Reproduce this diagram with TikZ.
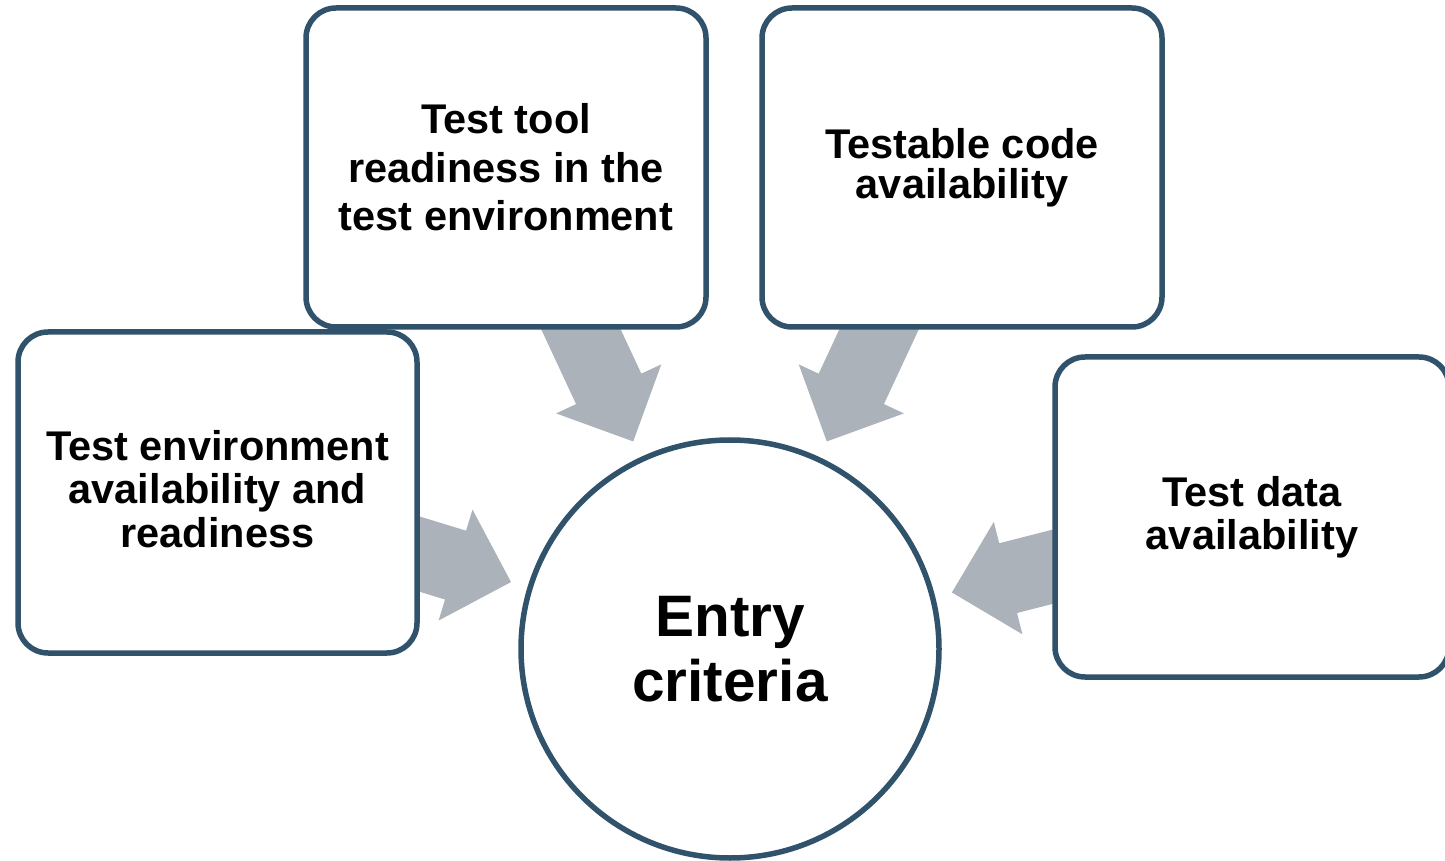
\documentclass[tikz,border=0pt]{standalone}
\usepackage{fontspec}
\setmainfont{Liberation Sans}
\usetikzlibrary{calc,backgrounds}
\definecolor{edgeblue}{HTML}{30526A}
\definecolor{arrowgray}{HTML}{ABB2BA}
\tikzset{
  infobox/.style={draw=edgeblue, line width=5.5pt, fill=white, rounded corners=30pt,
    align=center, inner sep=0pt, font=\bfseries\fontsize{41.5}{44}\selectfont},
  hub/.style={circle, draw=edgeblue, line width=5.5pt, fill=white, minimum size=418pt,
    inner sep=0pt, align=center, font=\bfseries\fontsize{58.5}{65}\selectfont},
  blockarrow/.pic={\fill[arrowgray] (0,0) -- (-58,58) -- (-58,36) -- (-170,36)
    -- (-170,-36) -- (-58,-36) -- (-58,-58) -- cycle;}
}
\begin{document}
\begin{tikzpicture}[x=1pt,y=1pt]
\useasboundingbox (0,0) rectangle (1445,860);
\node[hub] (E) at (730,211) {Entry\\criteria};
\node[infobox, minimum width=399pt, minimum height=321pt,
  font=\bfseries\fontsize{41.5}{43.5}\selectfont] (A) at (217.5,367.5)
  {Test environment\\availability and\\readiness\rule[-8pt]{0pt}{8pt}};
\node[infobox, minimum width=400pt, minimum height=319pt,
  font=\bfseries\fontsize{41.5}{48.5}\selectfont] (B) at (506,692.5)
  {Test tool\\readiness in the\\test environment};
\node[infobox, minimum width=400pt, minimum height=319pt,
  font=\bfseries\fontsize{41.5}{40}\selectfont] (C) at (962,692.5)
  {Testable code\\availability};
\node[infobox, minimum width=394pt, minimum height=320pt,
  font=\bfseries\fontsize{41.5}{43}\selectfont] (D) at (1252,343)
  {Test data\\availability};
\coordinate (tA) at ($(E.center)+(163:229)$);
\coordinate (tB) at ($(E.center)+(115:229)$);
\coordinate (tC) at ($(E.center)+(65:229)$);
\coordinate (tD) at ($(E.center)+(14.3:229)$);
\begin{pgfonlayer}{background}
  \pic[rotate=-17] at (tA) {blockarrow};
  \pic[rotate=-65] at (tB) {blockarrow};
  \pic[rotate=-115] at (tC) {blockarrow};
  \pic[rotate=194.3] at (tD) {blockarrow};
\end{pgfonlayer}
\end{tikzpicture}
\end{document}
